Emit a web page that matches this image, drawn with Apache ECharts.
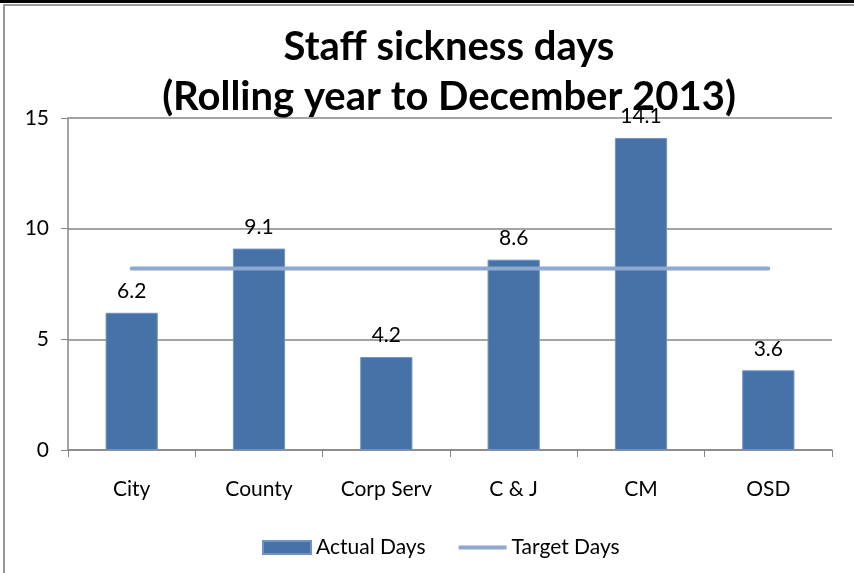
<!DOCTYPE html>
<html><head><meta charset="utf-8">
<script src="https://cdn.jsdelivr.net/npm/echarts@6/dist/echarts.min.js"></script>
<style>html,body{margin:0;padding:0;background:#fff}#c{width:854px;height:573px}</style>
</head><body><div id="c"></div>
<script>
var categories = ['City', 'County', 'Corp Serv', 'C & J', 'CM', 'OSD'];
var actualDays = [6.2, 9.1, 4.2, 8.6, 14.1, 3.6];
var targetDays = [8.2, 8.2, 8.2, 8.2, 8.2, 8.2];
var yTicks = [0, 5, 10, 15];
var titleLines = ['Staff sickness days', '(Rolling year to December 2013)'];

var FONT = 'Lato';
var chart = echarts.init(document.getElementById('c'));
chart.setOption({
  animation: false,
  backgroundColor: '#fff',
  graphic: [
    {type: 'rect', shape: {x: 0, y: 0, width: 854, height: 3}, style: {fill: '#000'}},
    {type: 'rect', shape: {x: 3, y: 4, width: 851, height: 2}, style: {fill: '#999'}},
    {type: 'rect', shape: {x: 3, y: 4, width: 2, height: 569}, style: {fill: '#999'}}
  ],
  title: {
    text: titleLines.join('\n'),
    left: 444, textAlign: 'center', top: 17,
    textStyle: {fontFamily: FONT, fontWeight: 'bold', fontSize: 40, color: '#000', lineHeight: 50}
  },
  legend: {
    left: 257, top: 532,
    itemWidth: 48, itemHeight: 13, itemGap: 33,
    textStyle: {fontFamily: FONT, fontSize: 21, color: '#000'},
    data: [
      {name: 'Actual Days', icon: 'rect'},
      {name: 'Target Days', icon: 'path://M0,0 L48,0 L48,4 L0,4 Z'}
    ]
  },
  grid: {left: 68, right: 22, top: 118, bottom: 123},
  xAxis: {
    type: 'category', data: categories, boundaryGap: true,
    axisLine: {lineStyle: {color: '#868686', width: 1.5}},
    axisTick: {show: true, length: 7, interval: 0, lineStyle: {color: '#868686'}},
    axisLabel: {margin: 29, fontFamily: FONT, fontSize: 21, color: '#000', interval: 0}
  },
  yAxis: {
    type: 'value', min: yTicks[0], max: yTicks[yTicks.length - 1], interval: 5,
    axisLine: {show: true, lineStyle: {color: '#868686', width: 1.5}},
    axisTick: {show: true, length: 7, lineStyle: {color: '#868686'}},
    splitLine: {lineStyle: {color: '#868686', width: 1.5}},
    axisLabel: {margin: 19, fontFamily: FONT, fontSize: 21, color: '#000'}
  },
  series: [
    {
      name: 'Actual Days', type: 'bar', data: actualDays, barWidth: '41%',
      itemStyle: {color: '#4672A8', borderColor: '#7094C4', borderWidth: 1},
      label: {show: true, position: 'top', distance: 11, fontFamily: FONT, fontSize: 21, color: '#000'}
    },
    {
      name: 'Target Days', type: 'line', data: targetDays, showSymbol: false, symbol: 'none',
      lineStyle: {color: '#8EA8CF', width: 4, cap: 'round'},
      itemStyle: {color: '#8EA8CF'}
    }
  ]
});
</script></body></html>
